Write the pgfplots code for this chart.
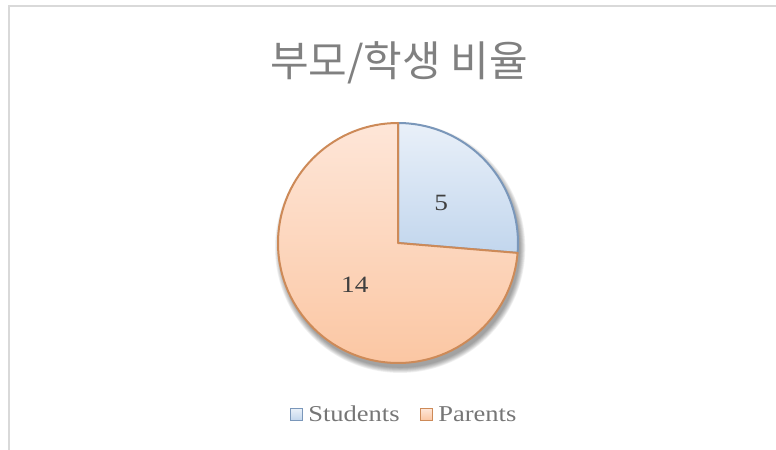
\documentclass[border=0pt]{standalone}
\usepackage{pgfplots}
\usepackage{pgfplotstable}
\pgfplotsset{compat=1.18}
\usepackage{fontspec}
\setmainfont{Liberation Serif}
\newfontfamily\legfont[FakeStretch=1.17]{Liberation Serif}
\newfontfamily\cjk{Noto Sans CJK KR}
\definecolor{stuTop}{HTML}{E9F0F9}
\definecolor{stuBot}{HTML}{C2D6ED}
\definecolor{stuLine}{HTML}{7A97BA}
\definecolor{parTop}{HTML}{FEE6D8}
\definecolor{parBot}{HTML}{FBC6A2}
\definecolor{parLine}{HTML}{CD8A58}
\definecolor{titlegray}{HTML}{808080}
\definecolor{labgray}{HTML}{404040}
\definecolor{leggray}{HTML}{767676}
\definecolor{framegray}{HTML}{D9D9D9}

\pgfplotstableread{
label value
Students 5
Parents 14
}\piedata
\pgfplotstablegetelem{0}{value}\of\piedata \let\vA\pgfplotsretval
\pgfplotstablegetelem{1}{value}\of\piedata \let\vB\pgfplotsretval
\pgfmathsetmacro\tot{\vA+\vB}
\pgfmathsetmacro\angA{90-360*\vA/\tot}

\begin{document}
\begin{tikzpicture}[x=0.75pt,y=0.75pt]
\useasboundingbox (0,0) rectangle (776,450);
\draw[framegray, line width=1.5pt] (8.5,0) -- (8.5,443.5) -- (776,443.5);
\node[font=\cjk\fontsize{31.5}{34}\selectfont, text=titlegray] at (399,387) {부모/학생 비율};
\begin{axis}[
  at={(298.5pt,155.25pt)}, anchor=center,
  x=90pt, y=90pt,
  xmin=-1.1, xmax=1.1, ymin=-1.1, ymax=1.1,
  hide axis, clip=false]
  % soft shadow
  \pgfplotsinvokeforeach{0,1,2,3,4,5,6,7}{
    \fill[black, opacity=0.055] (axis cs:0.018,-0.04) circle[radius={90pt+#1*0.55pt}];
  }
  \shadedraw[top color=stuTop, bottom color=stuBot, draw=stuLine, line width=1.5pt, line join=round]
    (axis cs:0,0) -- (axis cs:0,1) arc[start angle=90, end angle=\angA, radius=90pt] -- cycle;
  \shadedraw[top color=parTop, bottom color=parBot, draw=parLine, line width=1.5pt, line join=round]
    (axis cs:0,0) -- (axis cs:{cos(\angA)},{sin(\angA)}) arc[start angle=\angA, end angle=-270, radius=90pt] -- cycle;
  \node[font=\legfont\fontsize{17.5}{20}\selectfont, text=labgray] at (axis cs:0.36,0.333) {5};
  \node[font=\legfont\fontsize{17.5}{20}\selectfont, text=labgray] at (axis cs:-0.36,-0.35) {14};
\end{axis}
% legend
\shadedraw[top color=stuTop, bottom color=stuBot, draw=stuLine, line width=1pt] (290.5,29.5) rectangle (302.5,41.5);
\node[anchor=base west, inner sep=0pt, font=\legfont\fontsize{17}{20}\selectfont, text=leggray] at (308,28) {Students};
\shadedraw[top color=parTop, bottom color=parBot, draw=parLine, line width=1pt] (420.5,29.5) rectangle (432.5,41.5);
\node[anchor=base west, inner sep=0pt, font=\legfont\fontsize{17}{20}\selectfont, text=leggray] at (438,28) {Parents};
\end{tikzpicture}
\end{document}
